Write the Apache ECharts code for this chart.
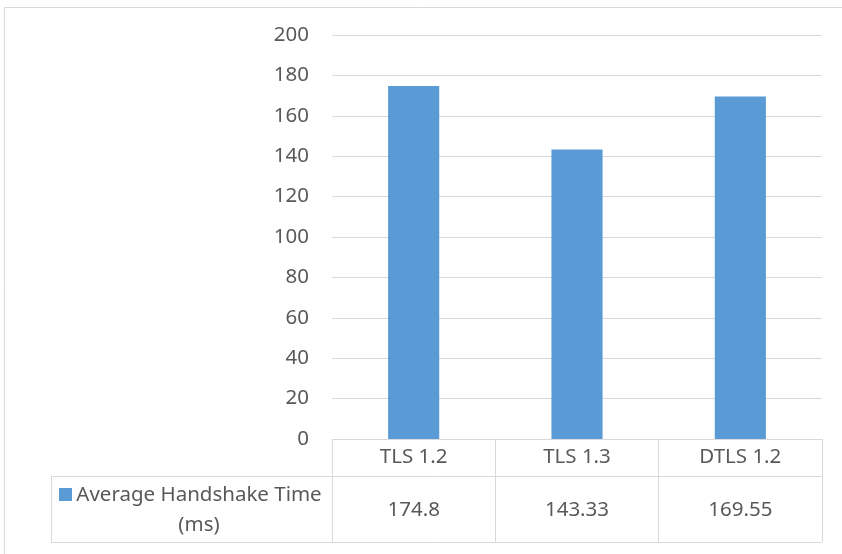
<!DOCTYPE html>
<html>
<head>
<meta charset="utf-8">
<style>
  html, body { margin: 0; padding: 0; background: #ffffff; }
  #chart { width: 842px; height: 554px; }
</style>
<script src="https://cdn.jsdelivr.net/npm/echarts@6/dist/echarts.min.js"></script>
</head>
<body>
<div id="chart"></div>
<script>
// Protocol versions and their measured handshake times
const categories = ['TLS 1.2', 'TLS 1.3', 'DTLS 1.2'];
const handshakeTimes = [174.8, 143.33, 169.55];
const seriesName = 'Average Handshake Time (ms)';
const yTicks = { min: 0, max: 200, step: 20 };

const textColor = '#595959';
const lineColor = '#d9d9d9';
const barColor = '#5b9bd5';
const font = '"Noto Sans", "Open Sans", sans-serif';
const fontSize = 20.5;

// Plot area geometry
const plotLeft = 332, plotRight = 822, plotTop = 35, plotBottom = 439;
const catRowH = 37, valRowH = 66;
const tableLeft = 51;

const chart = echarts.init(document.getElementById('chart'), null, { renderer: 'canvas' });

// Legend key text, wrapped the way the data table cell wraps it
const keyWords = seriesName.split(' ');
const keyLine1 = keyWords.slice(0, 3).join(' ');
const keyLine2 = keyWords.slice(3).join(' ');

chart.setOption({
  backgroundColor: '#ffffff',
  animation: false,
  grid: {
    left: plotLeft,
    top: plotTop,
    width: plotRight - plotLeft,
    height: plotBottom - plotTop,
    containLabel: false
  },
  xAxis: {
    type: 'category',
    data: categories,
    boundaryGap: true,
    axisLine: { show: true, lineStyle: { color: lineColor, width: 1 } },
    axisTick: {
      show: true,
      interval: 0,
      length: catRowH + valRowH,
      lineStyle: { color: lineColor, width: 1 }
    },
    axisLabel: {
      interval: 0,
      margin: 0,
      verticalAlign: 'top',
      formatter: function (value, idx) {
        return '{c|' + value + '}\n{v|' + String(handshakeTimes[idx]) + '}';
      },
      rich: {
        c: { fontFamily: font, fontSize: fontSize, color: textColor, lineHeight: catRowH, height: catRowH, align: 'center', verticalAlign: 'middle' },
        v: { fontFamily: font, fontSize: fontSize, color: textColor, lineHeight: valRowH + 2, height: valRowH + 2, align: 'center', verticalAlign: 'middle' }
      }
    },
    splitLine: { show: false }
  },
  yAxis: {
    type: 'value',
    min: yTicks.min,
    max: yTicks.max,
    interval: yTicks.step,
    axisLine: { show: false },
    axisTick: { show: false },
    axisLabel: { color: textColor, fontFamily: font, fontSize: fontSize, margin: 23 },
    splitLine: { show: true, lineStyle: { color: lineColor, width: 1 } }
  },
  series: [{
    name: seriesName,
    type: 'bar',
    data: handshakeTimes,
    barWidth: '31.3%',
    itemStyle: { color: barColor },
    silent: true
  }],
  graphic: [
    // outer chart border
    { type: 'rect', silent: true, shape: { x: 4.5, y: 7.5, width: 900, height: 700 },
      style: { fill: null, stroke: lineColor, lineWidth: 1 } },
    // data table rules
    { type: 'line', silent: true, shape: { x1: tableLeft, y1: plotBottom + catRowH + 0.5, x2: plotRight, y2: plotBottom + catRowH + 0.5 },
      style: { stroke: lineColor, lineWidth: 1 } },
    { type: 'line', silent: true, shape: { x1: tableLeft, y1: plotBottom + catRowH + valRowH + 0.5, x2: plotRight, y2: plotBottom + catRowH + valRowH + 0.5 },
      style: { stroke: lineColor, lineWidth: 1 } },
    { type: 'line', silent: true, shape: { x1: tableLeft + 0.5, y1: plotBottom + catRowH, x2: tableLeft + 0.5, y2: plotBottom + catRowH + valRowH },
      style: { stroke: lineColor, lineWidth: 1 } },
    // legend key
    { type: 'rect', silent: true, shape: { x: 59, y: 488, width: 13, height: 13 },
      style: { fill: barColor } },
    { type: 'text', silent: true, left: 74, top: 480,
      style: {
        text: '{a|' + keyLine1 + '}\n{a|' + keyLine2 + '}',
        rich: {
          a: { fontFamily: font, fontSize: fontSize, fill: textColor, width: 250, align: 'center', lineHeight: 30, height: 30, verticalAlign: 'middle' }
        }
      } }
  ]
});
</script>
</body>
</html>
